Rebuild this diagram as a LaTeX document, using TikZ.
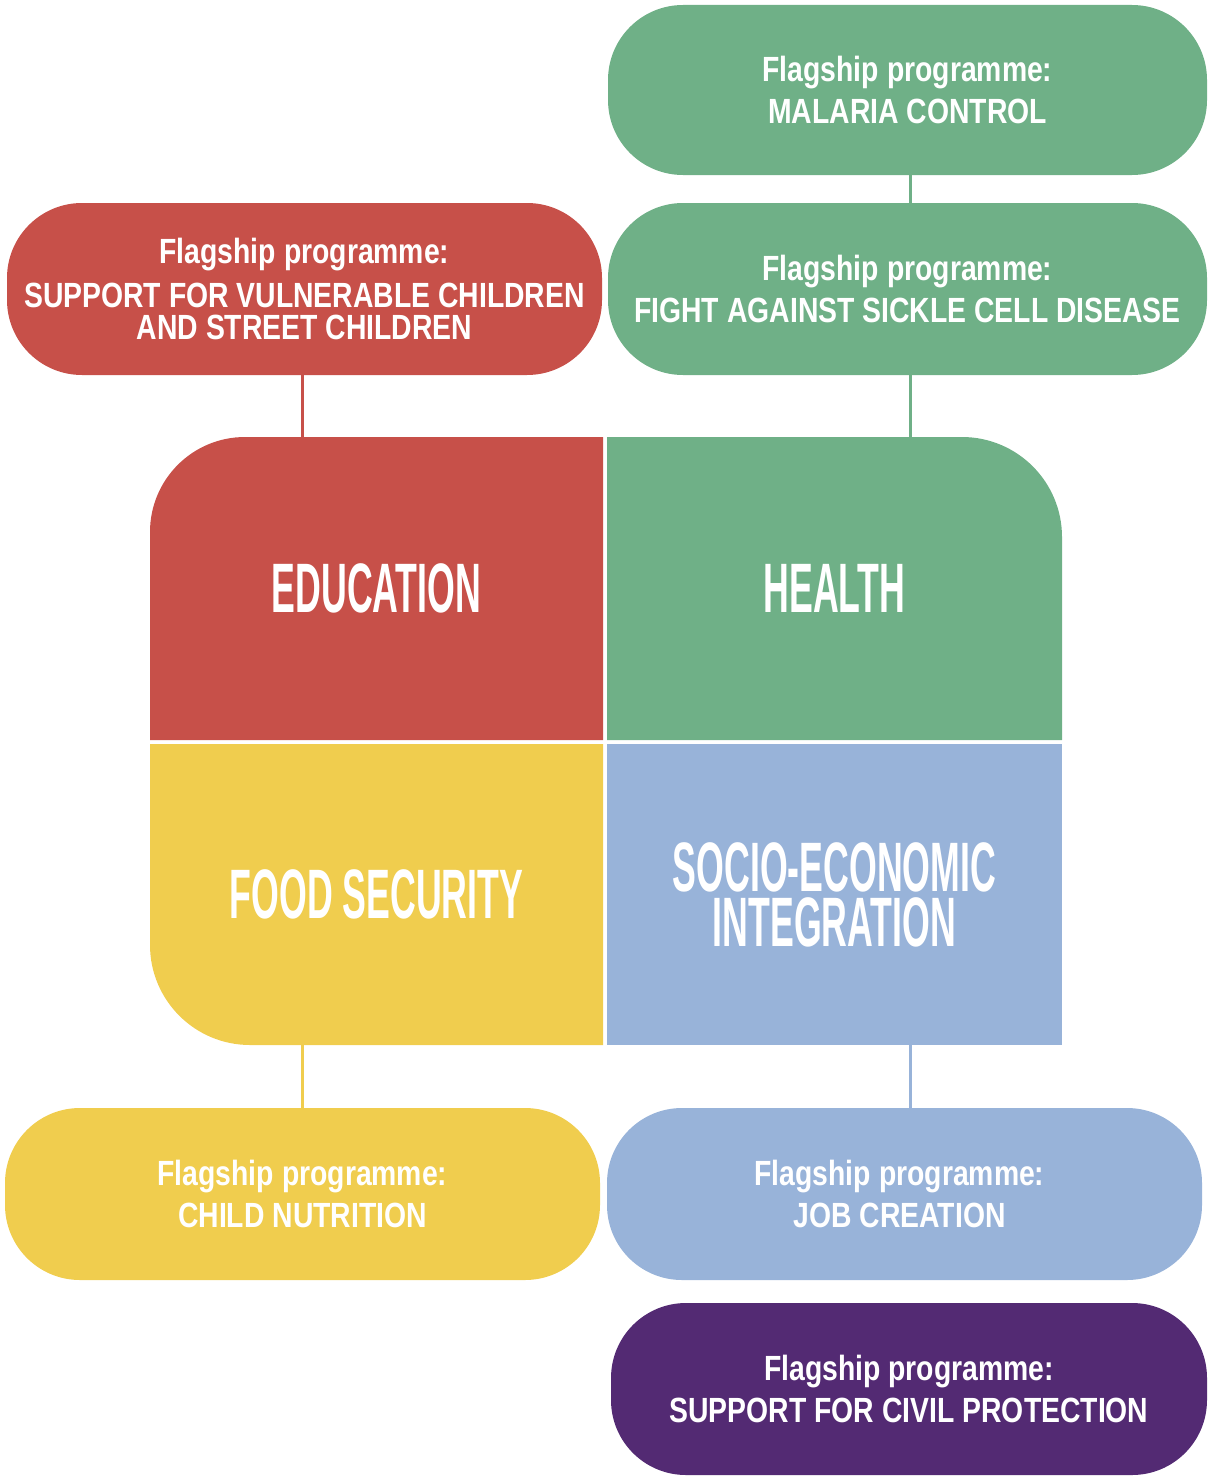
\documentclass[tikz,border=0pt]{standalone}
\usepackage{fontspec}
\newfontfamily\pillfont[FakeStretch=0.81]{Liberation Sans Bold}
\newfontfamily\bigfont[FakeStretch=0.51]{Liberation Sans Bold}
\definecolor{cred}{HTML}{C75049}
\definecolor{cgreen}{HTML}{6FB087}
\definecolor{cyellow}{HTML}{F0CD4E}
\definecolor{cblue}{HTML}{98B3D9}
\definecolor{cpurple}{HTML}{532A73}
\tikzset{
  pill/.style={rounded corners=75pt, text=white, align=center, inner sep=0pt,
    font=\pillfont\fontsize{35}{32}\selectfont, minimum height=172pt},
  bigtxt/.style={text=white, align=center, inner sep=0pt,
    font=\bigfont\fontsize{70}{55}\selectfont},
  link/.style={line width=3pt}
}
\begin{document}
\begin{tikzpicture}[x=1pt,y=-1pt]
\useasboundingbox (0,0) rectangle (1207,1477);
% block shapes
\fill[cred] (150,740) -- (150,532) .. controls (150,479.5) and (192.5,437) .. (245,437) -- (603,437) -- (603,740) -- cycle;
\fill[cgreen] (607,740) -- (607,437) -- (962,437) .. controls (1017.2,437) and (1062,481.8) .. (1062,537) -- (1062,740) -- cycle;
\fill[cyellow] (150,744) -- (150,945) .. controls (150,1000.2) and (194.8,1045) .. (250,1045) -- (603,1045) -- (603,744) -- cycle;
\fill[cblue] (607,744) rectangle (1062,1045);
% block labels
\node[bigtxt, minimum width=453pt, minimum height=303pt] (edu) at (376.5,588.5) {EDUCATION};
\node[bigtxt, minimum width=455pt, minimum height=303pt] (hea) at (834.5,588.5) {HEALTH};
\node[bigtxt, minimum width=453pt, minimum height=301pt] (food) at (376.5,894.5) {FOOD SECURITY};
\node[bigtxt, minimum width=455pt, minimum height=301pt] (soc) at (834.5,894.5) {SOCIO-ECONOMIC\\INTEGRATION};
% pills
\node[pill, fill=cgreen, minimum width=599pt, minimum height=170pt] (mal) at (907.5,90) {Flagship programme:\\[10pt]MALARIA CONTROL};
\node[pill, fill=cgreen, minimum width=599pt] (sick) at (907.5,289) {Flagship programme:\\[10pt]FIGHT AGAINST SICKLE CELL DISEASE};
\node[pill, fill=cred, minimum width=595pt] (vuln) at (304.5,289) {Flagship programme:\\[12pt]SUPPORT FOR VULNERABLE CHILDREN\\AND STREET CHILDREN};
\node[pill, fill=cyellow, minimum width=595pt] (nut) at (302.5,1194) {Flagship programme:\\[10pt]CHILD NUTRITION};
\node[pill, fill=cblue, minimum width=595pt] (job) at (904.5,1194) {\hspace*{-10pt}Flagship programme:\\[10pt]\hspace*{-10pt}JOB CREATION};
\node[pill, fill=cpurple, minimum width=596pt] (civ) at (909,1389) {Flagship programme:\\[10pt]SUPPORT FOR CIVIL PROTECTION};
% connectors
\draw[link, cgreen] ([xshift=2.5pt]mal.south) -- ([xshift=2.5pt]sick.north);
\draw[link, cgreen] ([xshift=2.5pt]sick.south) -- ([xshift=2.5pt]sick.south |- hea.north);
\draw[link, cred] ([xshift=-2.5pt]vuln.south) -- ([xshift=-2.5pt]vuln.south |- edu.north);
\draw[link, cyellow] (nut.north) -- (nut.north |- food.south);
\draw[link, cblue] ([xshift=5.5pt]job.north) -- ([xshift=5.5pt]job.north |- soc.south);
\end{tikzpicture}
\end{document}
